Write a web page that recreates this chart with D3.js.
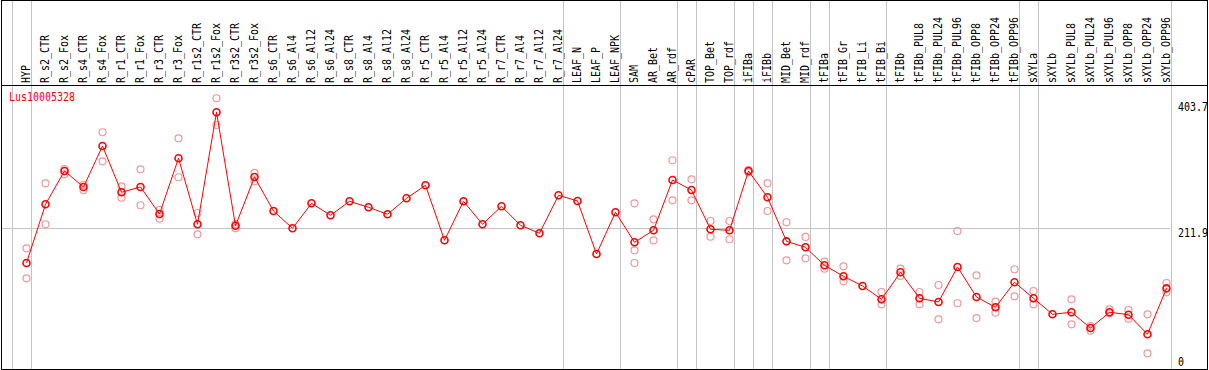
<!DOCTYPE html>
<html>
<head>
<meta charset="utf-8">
<script src="https://cdn.jsdelivr.net/npm/d3@7"></script>
<style>
  html, body { margin: 0; padding: 0; background: #fff; }
  svg { display: block; }
  text { font-family: "DejaVu Sans Mono", "Liberation Mono", monospace; font-size: 12px; }
</style>
</head>
<body>
<div id="chart"></div>
<script>
// gene name shown top left
var geneId = 'Lus10005328';

var samples = [
    'HYP', 'R_s2_CTR', 'R_s2_Fox', 'R_s4_CTR', 'R_s4_Fox', 'R_r1_CTR', 'R_r1_Fox',
    'R_r3_CTR', 'R_r3_Fox', 'R_r1s2_CTR', 'R_r1s2_Fox', 'R_r3s2_CTR', 'R_r3s2_Fox',
    'R_s6_CTR', 'R_s6_Al4', 'R_s6_Al12', 'R_s6_Al24', 'R_s8_CTR', 'R_s8_Al4',
    'R_s8_Al12', 'R_s8_Al24', 'R_r5_CTR', 'R_r5_Al4', 'R_r5_Al12', 'R_r5_Al24',
    'R_r7_CTR', 'R_r7_Al4', 'R_r7_Al12', 'R_r7_Al24', 'LEAF_N', 'LEAF_P', 'LEAF_NPK',
    'SAM', 'AR_Bet', 'AR_rdf', 'cPAR', 'TOP_Bet', 'TOP_rdf', 'iFIBa', 'iFIBb',
    'MID_Bet', 'MID_rdf', 'tFIBa', 'tFIB_Gr', 'tFIB_Li', 'tFIB_Bi', 'tFIBb',
    'tFIBb_PUL8', 'tFIBb_PUL24', 'tFIBb_PUL96', 'tFIBb_OPP8', 'tFIBb_OPP24', 'tFIBb_OPP96',
    'sXYLa', 'sXYLb', 'sXYLb_PUL8', 'sXYLb_PUL24', 'sXYLb_PUL96', 'sXYLb_OPP8',
    'sXYLb_OPP24', 'sXYLb_OPP96'
];

var means = [
    154.6, 251.6, 306.7, 280.2, 348.0, 271.5, 280.2,
    235.6, 327.7, 218.6, 403.7, 216.2, 296.7,
    240.5, 211.9, 253.3, 233.4, 256.6, 246.7,
    235.1, 261.5, 283.0, 192.1, 256.6, 218.6,
    248.3, 216.9, 203.7, 266.5, 257.1, 169.5, 238.4,
    188.8, 208.6, 291.8, 275.3, 210.3, 208.6, 306.7, 263.2,
    190.4, 180.5, 150.8, 132.6, 116.6, 94.6, 139.2,
    96.2, 90.1, 148.0, 98.4, 81.3, 122.7,
    96.2, 69.8, 73.1, 47.1, 73.1, 69.1,
    36.7, 112.7
];

// individual replicates, one list per sample
var replicates = [
    [178.9, 129.3], [286.3, 218.6], [310.0, 301.2], [283.5, 274.8], [370.7, 322.7],
    [281.4, 262.5], [309.5, 250.0], [242.2, 227.8], [360.7, 296.3], [237.2, 202.0],
    [426.9, 382.7], [219.0, 211.9], [303.4, 289.6],
    [], [], [], [], [], [], [], [], [], [], [], [], [], [], [], [], [], [], [],
    [253.3, 175.6, 154.6], [226.8, 192.1], [324.4, 258.2], [292.9, 258.2],
    [224.0, 198.1], [224.0, 193.8], [308.3, 304.5], [286.3, 240.5],
    [221.9, 159.0], [197.6, 162.3], [156.7, 145.2], [149.1, 124.3], [],
    [106.6, 86.3], [145.2, 133.1],
    [106.6, 86.3], [118.2, 61.5], [207.5, 88.0], [134.2, 63.6], [90.6, 72.4], [144.2, 99.5],
    [108.3, 86.3], [], [94.6, 53.2], [50.4, 42.7], [78.0, 71.4], [76.9, 62.5],
    [69.8, 5.3], [121.5, 106.1]
];

// group separators come after these sample positions (-1 = before the first)
var groupEnds = [-1, 0, 28, 31, 34, 35, 37, 38, 39, 41, 42, 45, 52, 53, 60];

// labels on the right hand axis
var axisValues = [403.7, 211.9, 0];
var midValue = 211.9;

(function () {
    'use strict';

    var width = 1209,
        height = 370,
        left = 1,
        right = 1207,
        plotRight = 1170,
        headerY = 85,
        bottom = 369,
        squeeze = 0.833;   // narrow glyphs, like the bitmap font of the original

    var svg = d3.select('#chart').append('svg')
        .attr('width', width)
        .attr('height', height);

    var x = d3.scalePoint()
        .domain(samples)
        .range([26.5, 1166.5]);

    var y = d3.scaleLinear()
        .domain([0, 403.7])
        .range([356.5, 112.3]);

    var step = x.step();

    function sepX(i) {
        return Math.round(x(samples[0]) + i * step + 4) + 0.5;
    }

    var grid = svg.append('g')
        .attr('shape-rendering', 'crispEdges')
        .style('stroke', '#c4c4c4')
        .style('stroke-width', 1);

    grid.append('line')
        .attr('x1', left)
        .attr('x2', plotRight)
        .attr('y1', Math.round(y(midValue)) + 0.5)
        .attr('y2', Math.round(y(midValue)) + 0.5);

    grid.selectAll('line.sep')
        .data(groupEnds)
        .enter().append('line')
        .attr('class', 'sep')
        .attr('x1', sepX)
        .attr('x2', sepX)
        .attr('y1', 0)
        .attr('y2', bottom);

    // frame
    var frame = svg.append('g')
        .attr('shape-rendering', 'crispEdges')
        .style('stroke', '#000')
        .style('stroke-width', 1)
        .style('fill', 'none');

    frame.append('rect')
        .attr('x', left + 0.5)
        .attr('y', 0.5)
        .attr('width', right - left)
        .attr('height', bottom - 0.5);

    frame.append('line')
        .attr('x1', left)
        .attr('x2', right)
        .attr('y1', headerY + 0.5)
        .attr('y2', headerY + 0.5);

    // sample names, rotated
    svg.append('g').selectAll('text')
        .data(samples)
        .enter().append('text')
        .attr('transform', function (d) {
            return 'translate(' + (x(d) + 3) + ',' + (headerY - 2) + ') rotate(-90) scale(' + squeeze + ',1)';
        })
        .style('fill', '#000')
        .text(function (d) { return d; });

    // right axis labels
    svg.append('g').selectAll('text')
        .data(axisValues)
        .enter().append('text')
        .attr('transform', function (d, i) {
            var ty = i === 0 ? 111 : y(d) + 9;
            return 'translate(1178,' + ty + ') scale(' + squeeze + ',1)';
        })
        .style('fill', '#000')
        .text(function (d) { return d; });

    svg.append('text')
        .attr('transform', 'translate(9,101) scale(' + squeeze + ',1)')
        .style('fill', '#ff0000')
        .text(geneId);

    // replicate points
    var repPoints = [];
    replicates.forEach(function (list, i) {
        list.forEach(function (v) {
            repPoints.push({ s: samples[i], v: v });
        });
    });

    svg.append('g').selectAll('circle')
        .data(repPoints)
        .enter().append('circle')
        .attr('cx', function (d) { return x(d.s); })
        .attr('cy', function (d) { return y(d.v); })
        .attr('r', 3.5)
        .style('fill', 'none')
        .style('stroke', '#f09898')
        .style('stroke-width', 1.2);

    var line = d3.line()
        .x(function (d, i) { return x(samples[i]); })
        .y(function (d) { return y(d); });

    svg.append('path')
        .datum(means)
        .attr('d', line)
        .style('fill', 'none')
        .style('stroke', '#ff0000')
        .style('stroke-width', 1);

    svg.append('g').selectAll('circle')
        .data(means)
        .enter().append('circle')
        .attr('cx', function (d, i) { return x(samples[i]); })
        .attr('cy', function (d) { return y(d); })
        .attr('r', 3.5)
        .style('fill', 'none')
        .style('stroke', '#ff0000')
        .style('stroke-width', 1.6);
})();
</script>
</body>
</html>
